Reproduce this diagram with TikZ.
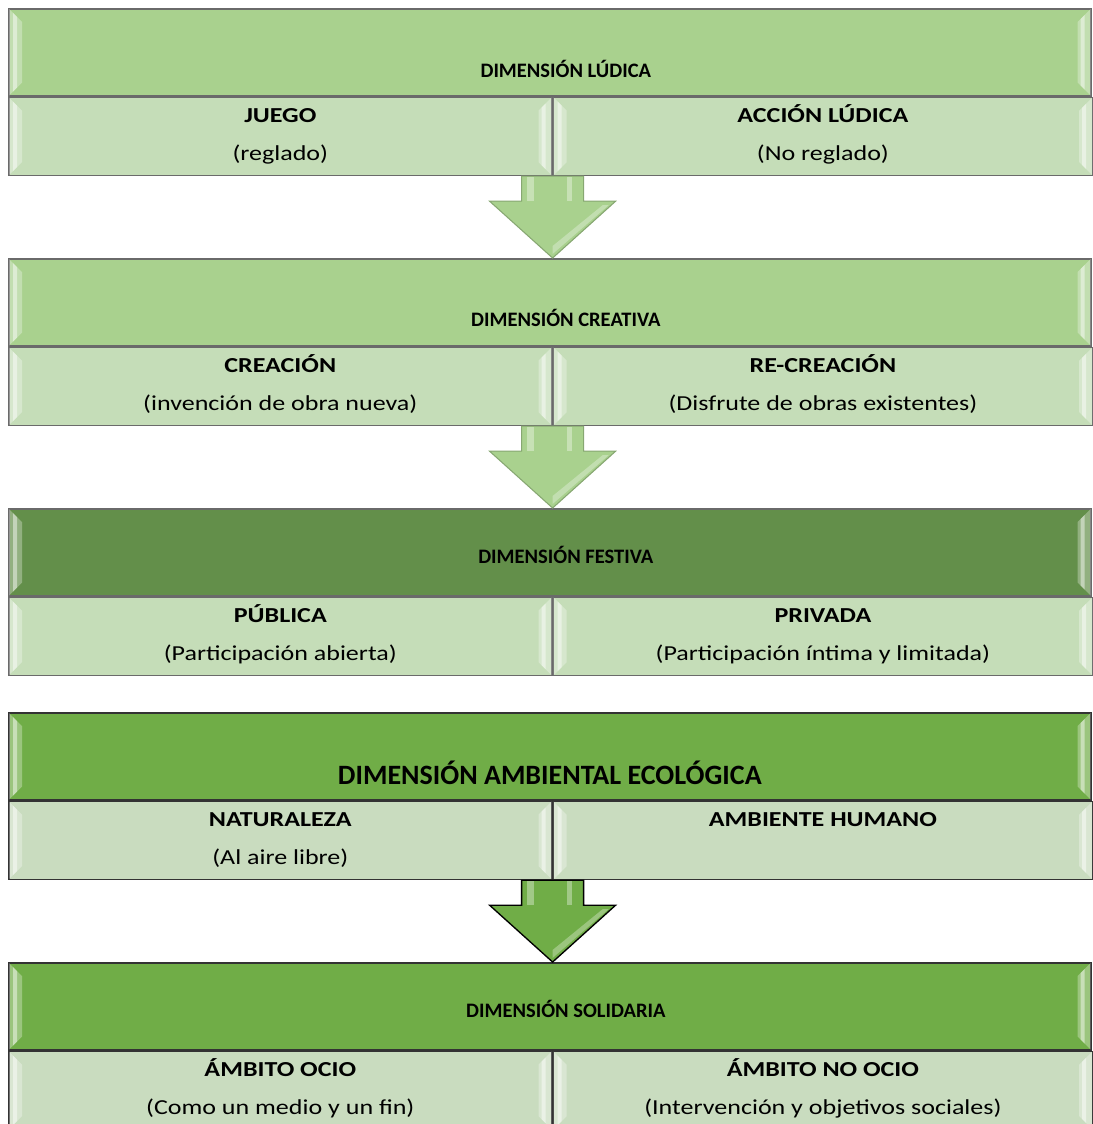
\documentclass[tikz,border=0pt]{standalone}
\usepackage{fontspec}
\setmainfont{Carlito}
\newfontfamily\cellfont[FakeStretch=1.22]{Carlito}
\usetikzlibrary{calc, positioning}

\definecolor{hdlight}{HTML}{A9D18E}
\definecolor{sublight}{HTML}{C5DDB8}
\definecolor{hddark}{HTML}{638F4A}
\definecolor{hdmid}{HTML}{70AD47}
\definecolor{subpale}{HTML}{C9DCBF}
\definecolor{edgegray}{HTML}{6A6A6A}
\definecolor{edgedark}{HTML}{333333}

% fixed line height inside the cells
\newcommand\cellstrut{\rule[-8.5pt]{0pt}{24.5pt}}

% bevel strips on the left and right side of a box
\newcommand\bevel[1]{%
	\fill[white, opacity=.30] ($(#1.north west)+(1,1)$) -- ++(13,13) -- ($(#1.south west)+(14,-14)$) -- ($(#1.south west)+(1,-1)$) -- cycle;
	\fill[white, opacity=.45] ($(#1.north west)+(5,5)$) -- ++(4,4) -- ($(#1.south west)+(9,-9)$) -- ($(#1.south west)+(5,-5)$) -- cycle;
	\fill[white, opacity=.30] ($(#1.north east)+(-1,1)$) -- ++(-13,13) -- ($(#1.south east)+(-14,-14)$) -- ($(#1.south east)+(-1,-1)$) -- cycle;
	\fill[white, opacity=.45] ($(#1.north east)+(-7,7)$) -- ++(-4,4) -- ($(#1.south east)+(-11,-11)$) -- ($(#1.south east)+(-7,-7)$) -- cycle;
}

% block arrow from the top point #1 down to the tip #2
\newcommand\blockarrow[3]{%
	\draw[#3] ($(#1)+(-31,0)$) -- ($(#1)+(-31,25)$) -- ($(#1)+(-63,25)$) -- (#2) -- ($(#1)+(63,25)$) -- ($(#1)+(31,25)$) -- ($(#1)+(31,0)$) -- cycle;
	\fill[white, opacity=.35] ($(#1)+(-26,1)$) rectangle ($(#1)+(-19,25)$);
	\fill[white, opacity=.35] ($(#1)+(14,1)$) rectangle ($(#1)+(19,25)$);
	\fill[white, opacity=.30] ($(#1)+(50,29)$) -- ($(#1)+(56,29)$) -- ($(#2)+(0,-4)$) -- ($(#2)+(0,-12)$) -- cycle;
}

\begin{document}
\begin{tikzpicture}[x=0.75pt, y=-0.75pt,
	box/.style={draw=edgegray, line width=1.2pt, inner sep=0pt, anchor=north west},
	head/.style={box, minimum width=811.5pt, minimum height=65.25pt},
	subl/.style={box, minimum width=407.25pt, minimum height=58.5pt, align=center,
		font=\cellfont\fontsize{16}{28.5}\selectfont},
	subr/.style={subl, minimum width=404.25pt},
	hdtxt/.style={inner sep=0pt, font=\fontsize{15.4}{18}\selectfont\bfseries},
	bigtxt/.style={hdtxt, font=\fontsize{21}{25}\selectfont\bfseries},
	softarrow/.style={fill=hdlight, draw=hdlight!80!black, line width=0.8pt, line join=miter},
	darkarrow/.style={fill=hdmid, draw=black, line width=1pt, line join=miter}]

	\useasboundingbox (0,0) rectangle (1092,1124);

	% DIMENSION LUDICA
	\node[head, fill=hdlight] (h1) at (8,8) {};
	\node[subl, fill=sublight] (s1a) at (h1.south west) {\cellstrut\textbf{JUEGO}\\\cellstrut(reglado)};
	\node[subr, fill=sublight, right=0pt of s1a] (s1b) {\cellstrut\textbf{ACCIÓN LÚDICA}\\\cellstrut(No reglado)};
	\bevel{h1} \bevel{s1a} \bevel{s1b}
	\node[hdtxt] (t1) at ($(h1.south)+(16,-28)$) {DIMENSIÓN LÚDICA};

	% DIMENSION CREATIVA
	\node[head, fill=hdlight] (h2) at (8,258) {};
	\node[subl, fill=sublight] (s2a) at (h2.south west) {\cellstrut\textbf{CREACIÓN}\\\cellstrut(invención de obra nueva)};
	\node[subr, fill=sublight, right=0pt of s2a] (s2b) {\cellstrut\textbf{RE-CREACIÓN}\\\cellstrut(Disfrute de obras existentes)};
	\bevel{h2} \bevel{s2a} \bevel{s2b}
	\node[hdtxt] (t2) at ($(h2.south)+(16,-29)$) {DIMENSIÓN CREATIVA};

	% DIMENSION FESTIVA
	\node[head, fill=hddark] (h3) at (8,508) {};
	\node[subl, fill=sublight] (s3a) at (h3.south west) {\cellstrut\textbf{PÚBLICA}\\\cellstrut(Participación abierta)};
	\node[subr, fill=sublight, right=0pt of s3a] (s3b) {\cellstrut\textbf{PRIVADA}\\\cellstrut(Participación íntima y limitada)};
	\bevel{h3} \bevel{s3a} \bevel{s3b}
	\node[hdtxt] (t3) at ($(h3.south)+(16,-42)$) {DIMENSIÓN FESTIVA};

	% DIMENSION AMBIENTAL ECOLOGICA
	\node[head, fill=hdmid, draw=edgedark] (h4) at (8,712) {};
	\node[subl, fill=subpale, draw=edgedark] (s4a) at (h4.south west) {\cellstrut\textbf{NATURALEZA}\\\cellstrut(Al aire libre)};
	\node[subr, fill=subpale, draw=edgedark, right=0pt of s4a] (s4b) {\cellstrut\textbf{AMBIENTE HUMANO}\\\cellstrut};
	\bevel{h4} \bevel{s4a} \bevel{s4b}
	\node[bigtxt] (t4) at ($(h4.south)+(0,-28)$) {DIMENSIÓN AMBIENTAL ECOLÓGICA};

	% DIMENSION SOLIDARIA
	\node[head, fill=hdmid, draw=edgedark] (h5) at (8,962) {};
	\node[subl, fill=subpale, draw=edgedark] (s5a) at (h5.south west) {\cellstrut\textbf{ÁMBITO OCIO}\\\cellstrut(Como un medio y un fin)};
	\node[subr, fill=subpale, draw=edgedark, right=0pt of s5a] (s5b) {\cellstrut\textbf{ÁMBITO NO OCIO}\\\cellstrut(Intervención y objetivos sociales)};
	\bevel{h5} \bevel{s5a} \bevel{s5b}
	\node[hdtxt] (t5) at ($(h5.south)+(16,-42)$) {DIMENSIÓN SOLIDARIA};

	% arrows
	\blockarrow{s1a.south east}{s1a.south east |- h2.north}{softarrow}
	\blockarrow{s2a.south east}{s2a.south east |- h3.north}{softarrow}
	\blockarrow{s4a.south east}{s4a.south east |- h5.north}{darkarrow}
\end{tikzpicture}
\end{document}
